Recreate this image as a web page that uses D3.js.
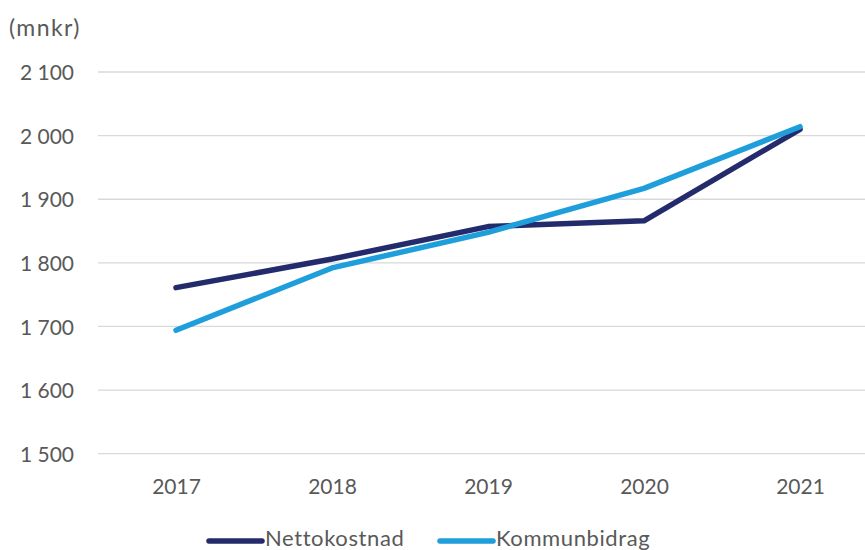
<!DOCTYPE html>
<html><head><meta charset="utf-8">
<script src="https://cdn.jsdelivr.net/npm/d3@7"></script>
<style>body{margin:0;background:#fff}svg{display:block}</style>
</head><body>
<svg id="c" width="865" height="550"></svg>
<script>
const years = ["2017","2018","2019","2020","2021"];
const nettokostnad = [1761, 1806, 1857, 1866, 2010];
const kommunbidrag = [1694, 1792, 1848, 1917, 2014];
const yTicks = [1500,1600,1700,1800,1900,2000,2100];
const seriesNames = ["Nettokostnad","Kommunbidrag"];
const colors = ["#232B6C","#1E9FDB"];

const svg = d3.select("#c");
const font = "'Source Sans Pro','Lato','Open Sans',sans-serif";
const x = d3.scalePoint().domain(years).range([176, 800]);
const y = d3.scaleLinear().domain([1500,2100]).range([453.7, 72]);

// gridlines
svg.append("g").selectAll("line").data(yTicks).join("line")
  .attr("x1", 98).attr("x2", 865)
  .attr("y1", d=>y(d)).attr("y2", d=>y(d))
  .attr("stroke", "#d9d9d9").attr("stroke-width", 1.3);

const yAxis = svg.append("g").attr("transform","translate(74,0)")
  .call(d3.axisLeft(y).tickValues(yTicks).tickSize(0).tickPadding(0).tickFormat(d=>{const s=String(d);return s[0]+" "+s.slice(1);}));
yAxis.select(".domain").remove();
yAxis.selectAll("text").attr("font-family",font).attr("font-size",21).attr("fill","#595959").attr("dy","0.36em")
  .style("white-space","pre");

const xAxis = svg.append("g").attr("transform","translate(0,479)")
  .call(d3.axisBottom(x).tickSize(0).tickPadding(0));
xAxis.select(".domain").remove();
xAxis.selectAll("text").attr("font-family",font).attr("font-size",21).attr("fill","#595959").attr("dy","0.71em");

svg.append("text").attr("x",9).attr("y",36).text("(mnkr)")
  .attr("font-family",font).attr("font-size",23).attr("letter-spacing",1.4).attr("fill","#595959");

const line = d3.line().x((d,i)=>x(years[i])).y(d=>y(d));
[nettokostnad, kommunbidrag].forEach((s,i)=>{
  svg.append("path").datum(s).attr("d",line).attr("fill","none")
    .attr("stroke",colors[i]).attr("stroke-width",5.5)
    .attr("stroke-linecap","round").attr("stroke-linejoin","round");
});

// legend
const legX = [209, 440];
seriesNames.forEach((n,i)=>{
  svg.append("line").attr("x1",legX[i]).attr("x2",legX[i]+53).attr("y1",541).attr("y2",541)
    .attr("stroke",colors[i]).attr("stroke-width",5.5).attr("stroke-linecap","round");
  svg.append("text").attr("x",legX[i]+56).attr("y",546).text(n)
    .attr("font-family",font).attr("font-size",22).attr("letter-spacing",0.6).attr("fill","#595959");
});
</script>
</body></html>
